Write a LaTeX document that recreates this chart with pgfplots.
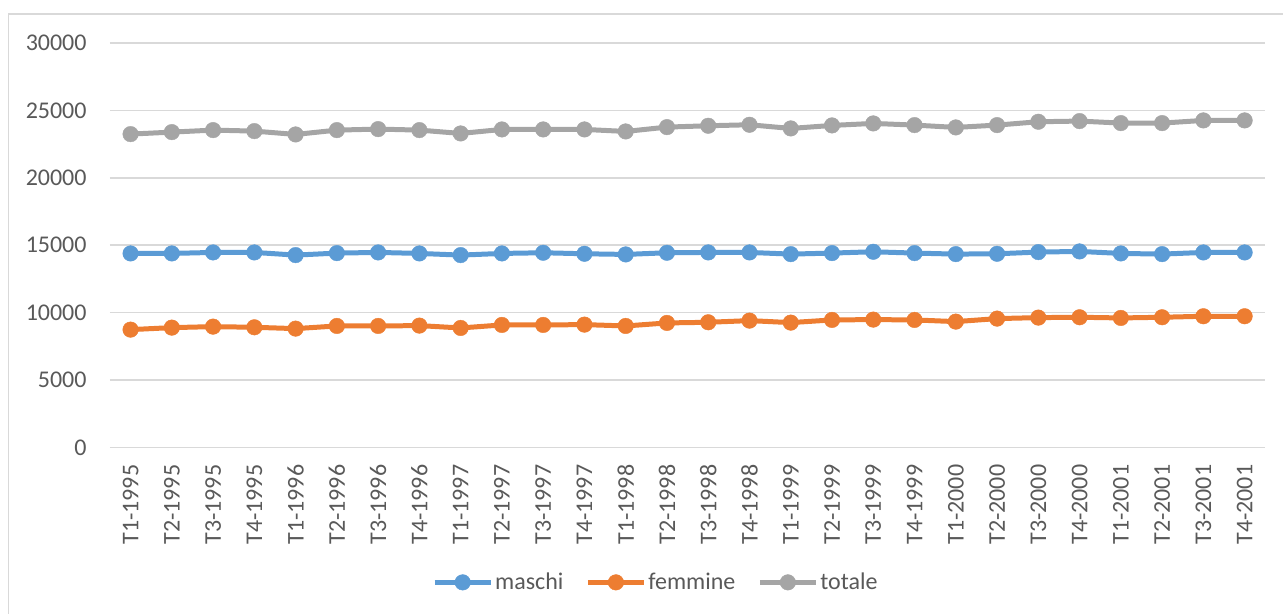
\documentclass[border=0pt]{standalone}
\usepackage{fontspec}
\setmainfont{Carlito}
\usepackage{pgfplots}
\pgfplotsset{compat=1.18}
\definecolor{cblue}{HTML}{5B9BD5}
\definecolor{corange}{HTML}{ED7D31}
\definecolor{cgrey}{HTML}{A5A5A5}
\definecolor{ctext}{HTML}{595959}
\definecolor{cgrid}{HTML}{D9D9D9}
\begin{document}
\begin{tikzpicture}
\path (0pt,0pt) rectangle (642pt,307pt);
\draw[cgrid, line width=0.75pt] (4.25pt,0pt) -- (4.25pt,300pt) -- (642pt,300pt);
\begin{axis}[
  at={(55pt,83.15pt)}, anchor=south west, scale only axis,
  width=578pt, height=202.35pt,
  xmin=-0.5, xmax=27.5, ymin=0, ymax=30000,
  xtick={0,...,27},
  xticklabels={T1-1995,T2-1995,T3-1995,T4-1995,T1-1996,T2-1996,T3-1996,T4-1996,T1-1997,T2-1997,T3-1997,T4-1997,T1-1998,T2-1998,T3-1998,T4-1998,T1-1999,T2-1999,T3-1999,T4-1999,T1-2000,T2-2000,T3-2000,T4-2000,T1-2001,T2-2001,T3-2001,T4-2001},
  ytick={0,5000,...,30000},
  axis line style={draw=none},
  ymajorgrids, grid style={cgrid, line width=0.75pt},
  major tick length=0pt,
  tick label style={font=\fontsize{12}{14}\selectfont, text=ctext},
  /pgf/number format/assume math mode=true,
  scaled y ticks=false,
  yticklabel style={/pgf/number format/1000 sep={}, anchor=east, inner sep=0pt},
  yticklabel shift=11.5pt,
  xticklabel style={rotate=90, anchor=east, inner sep=0pt},
  xticklabel shift=8.5pt,
  legend columns=3,
  legend style={at={(0.4725,-0.3336)}, anchor=center, draw=none, fill=none,
    font=\fontsize{12}{14}\selectfont, text=ctext,
    nodes={inner sep=1pt},
    /tikz/every even column/.append style={column sep=10pt}},
  legend image code/.code={\draw[mark repeat=2,mark phase=2,#1] plot coordinates {(0pt,0pt) (14pt,0pt) (28pt,0pt)};},
  every axis plot/.append style={line width=2.5pt, mark=*, mark size=3.9pt},
]
\addplot[cblue, mark options={solid, fill=cblue, draw=cblue, line width=0.2pt}] coordinates {
(0,14390) (1,14390) (2,14464) (3,14464) (4,14266) (5,14415) (6,14464) (7,14390)
(8,14266) (9,14390) (10,14440) (11,14365) (12,14316) (13,14440) (14,14464) (15,14464)
(16,14340) (17,14415) (18,14514) (19,14415) (20,14340) (21,14365) (22,14489) (23,14539)
(24,14390) (25,14340) (26,14464) (27,14464)};
\addlegendentry{maschi}
\addplot[corange, mark options={solid, fill=corange, draw=corange, line width=0.2pt}] coordinates {
(0,8738) (1,8887) (2,8961) (3,8912) (4,8813) (5,9011) (6,9011) (7,9036)
(8,8862) (9,9085) (10,9085) (11,9110) (12,9011) (13,9234) (14,9283) (15,9407)
(16,9259) (17,9457) (18,9482) (19,9457) (20,9333) (21,9556) (22,9630) (23,9655)
(24,9605) (25,9655) (26,9730) (27,9730)};
\addlegendentry{femmine}
\addplot[cgrey, mark options={solid, fill=cgrey, draw=cgrey, line width=0.2pt}] coordinates {
(0,23240) (1,23389) (2,23537) (3,23463) (4,23215) (5,23537) (6,23612) (7,23537)
(8,23290) (9,23587) (10,23587) (11,23587) (12,23438) (13,23760) (14,23860) (15,23934)
(16,23661) (17,23884) (18,24033) (19,23909) (20,23736) (21,23909) (22,24157) (23,24207)
(24,24058) (25,24058) (26,24256) (27,24256)};
\addlegendentry{totale}
\end{axis}
\end{tikzpicture}
\end{document}
